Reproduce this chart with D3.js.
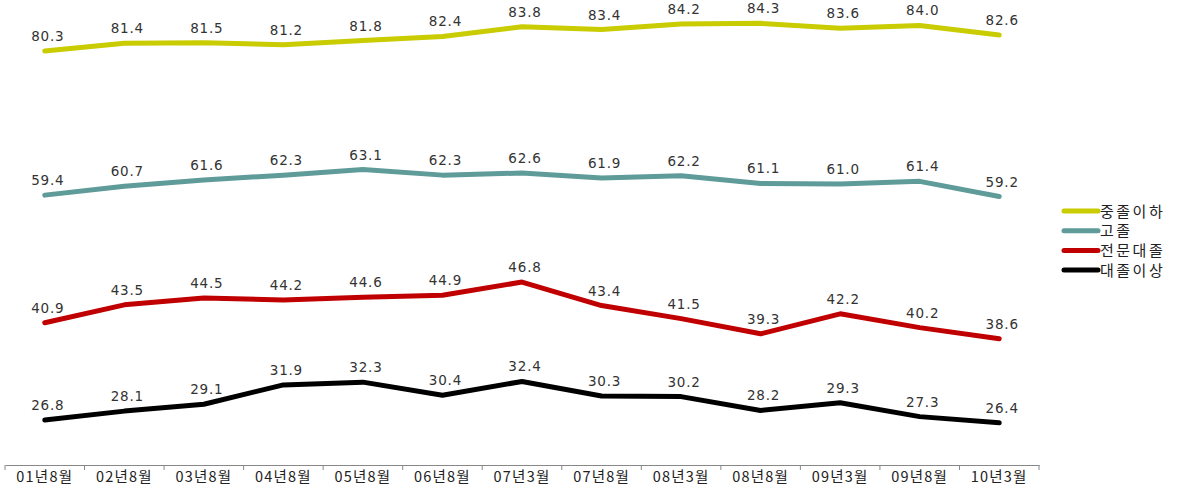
<!DOCTYPE html>
<html>
<head>
<meta charset="utf-8">
<script src="https://cdn.jsdelivr.net/npm/d3@7"></script>
<style>
  body { margin: 0; background: #fff; }
  text { font-family: "Noto Sans CJK KR", "DejaVu Sans", sans-serif; fill: #222; }
  .val { font-family: "DejaVu Sans", sans-serif; font-size: 13.5px; letter-spacing: 0.8px; fill: #333; }
</style>
</head>
<body>
<svg id="chart" width="1189" height="493"></svg>
<script>
var categories = ["01년8월", "02년8월", "03년8월", "04년8월", "05년8월", "06년8월", "07년3월",
                  "07년8월", "08년3월", "08년8월", "09년3월", "09년8월", "10년3월"];
var seriesNames = ["중졸이하", "고졸", "전문대졸", "대졸이상"];
var middleSchool = [80.3, 81.4, 81.5, 81.2, 81.8, 82.4, 83.8, 83.4, 84.2, 84.3, 83.6, 84.0, 82.6];
var highSchool = [59.4, 60.7, 61.6, 62.3, 63.1, 62.3, 62.6, 61.9, 62.2, 61.1, 61.0, 61.4, 59.2];
var college = [40.9, 43.5, 44.5, 44.2, 44.6, 44.9, 46.8, 43.4, 41.5, 39.3, 42.2, 40.2, 38.6];
var university = [26.8, 28.1, 29.1, 31.9, 32.3, 30.4, 32.4, 30.3, 30.2, 28.2, 29.3, 27.3, 26.4];
var colors = ["#c9cc00", "#5e9b99", "#c00000", "#000000"];

var series = [middleSchool, highSchool, college, university];

var svg = d3.select("#chart");

var x = d3.scaleBand().domain(categories).range([5, 1039]);
var y = d3.scaleLinear().domain([20, 90]).range([467, -16]);

// x axis
var axis = svg.append("g")
    .attr("transform", "translate(0,465)")
    .call(d3.axisBottom(x).tickSize(0).tickPadding(7));
axis.select(".domain").attr("stroke", "#888");
axis.selectAll("text").style("font-size", "14.5px").style("letter-spacing", "1.2px").attr("fill", "#222");
// tick separators between categories
var sep = [5].concat(categories.map(function (c) { return x(c) + x.bandwidth(); }));
svg.append("g").selectAll("line").data(sep).enter().append("line")
    .attr("x1", function (d) { return d; }).attr("x2", function (d) { return d; })
    .attr("y1", 465).attr("y2", 470)
    .attr("stroke", "#888");

var line = d3.line()
    .x(function (d, i) { return x(categories[i]) + x.bandwidth() / 2; })
    .y(function (d) { return y(d); });

series.forEach(function (s, k) {
    svg.append("path")
        .datum(s)
        .attr("d", line)
        .attr("fill", "none")
        .attr("stroke", colors[k])
        .attr("stroke-width", 5)
        .attr("stroke-linejoin", "round")
        .attr("stroke-linecap", "round");

    svg.append("g").selectAll("text").data(s).enter().append("text")
        .attr("class", "val")
        .attr("x", function (d, i) { return x(categories[i]) + x.bandwidth() / 2 + 3; })
        .attr("y", function (d) { return y(d) - 10; })
        .attr("text-anchor", "middle")
        .text(function (d) { return d.toFixed(1); });
});

// legend
var legend = svg.append("g").attr("transform", "translate(1062,211)");
seriesNames.forEach(function (name, k) {
    var g = legend.append("g").attr("transform", "translate(0," + (k * 19.7) + ")");
    g.append("line")
        .attr("x1", 2).attr("x2", 36)
        .attr("stroke", colors[k]).attr("stroke-width", 5)
        .attr("stroke-linecap", "round");
    g.append("text")
        .attr("x", 38).attr("y", 5.5)
        .style("font-size", "15px")
        .style("letter-spacing", "2.5px")
        .text(name);
});
</script>
</body>
</html>
